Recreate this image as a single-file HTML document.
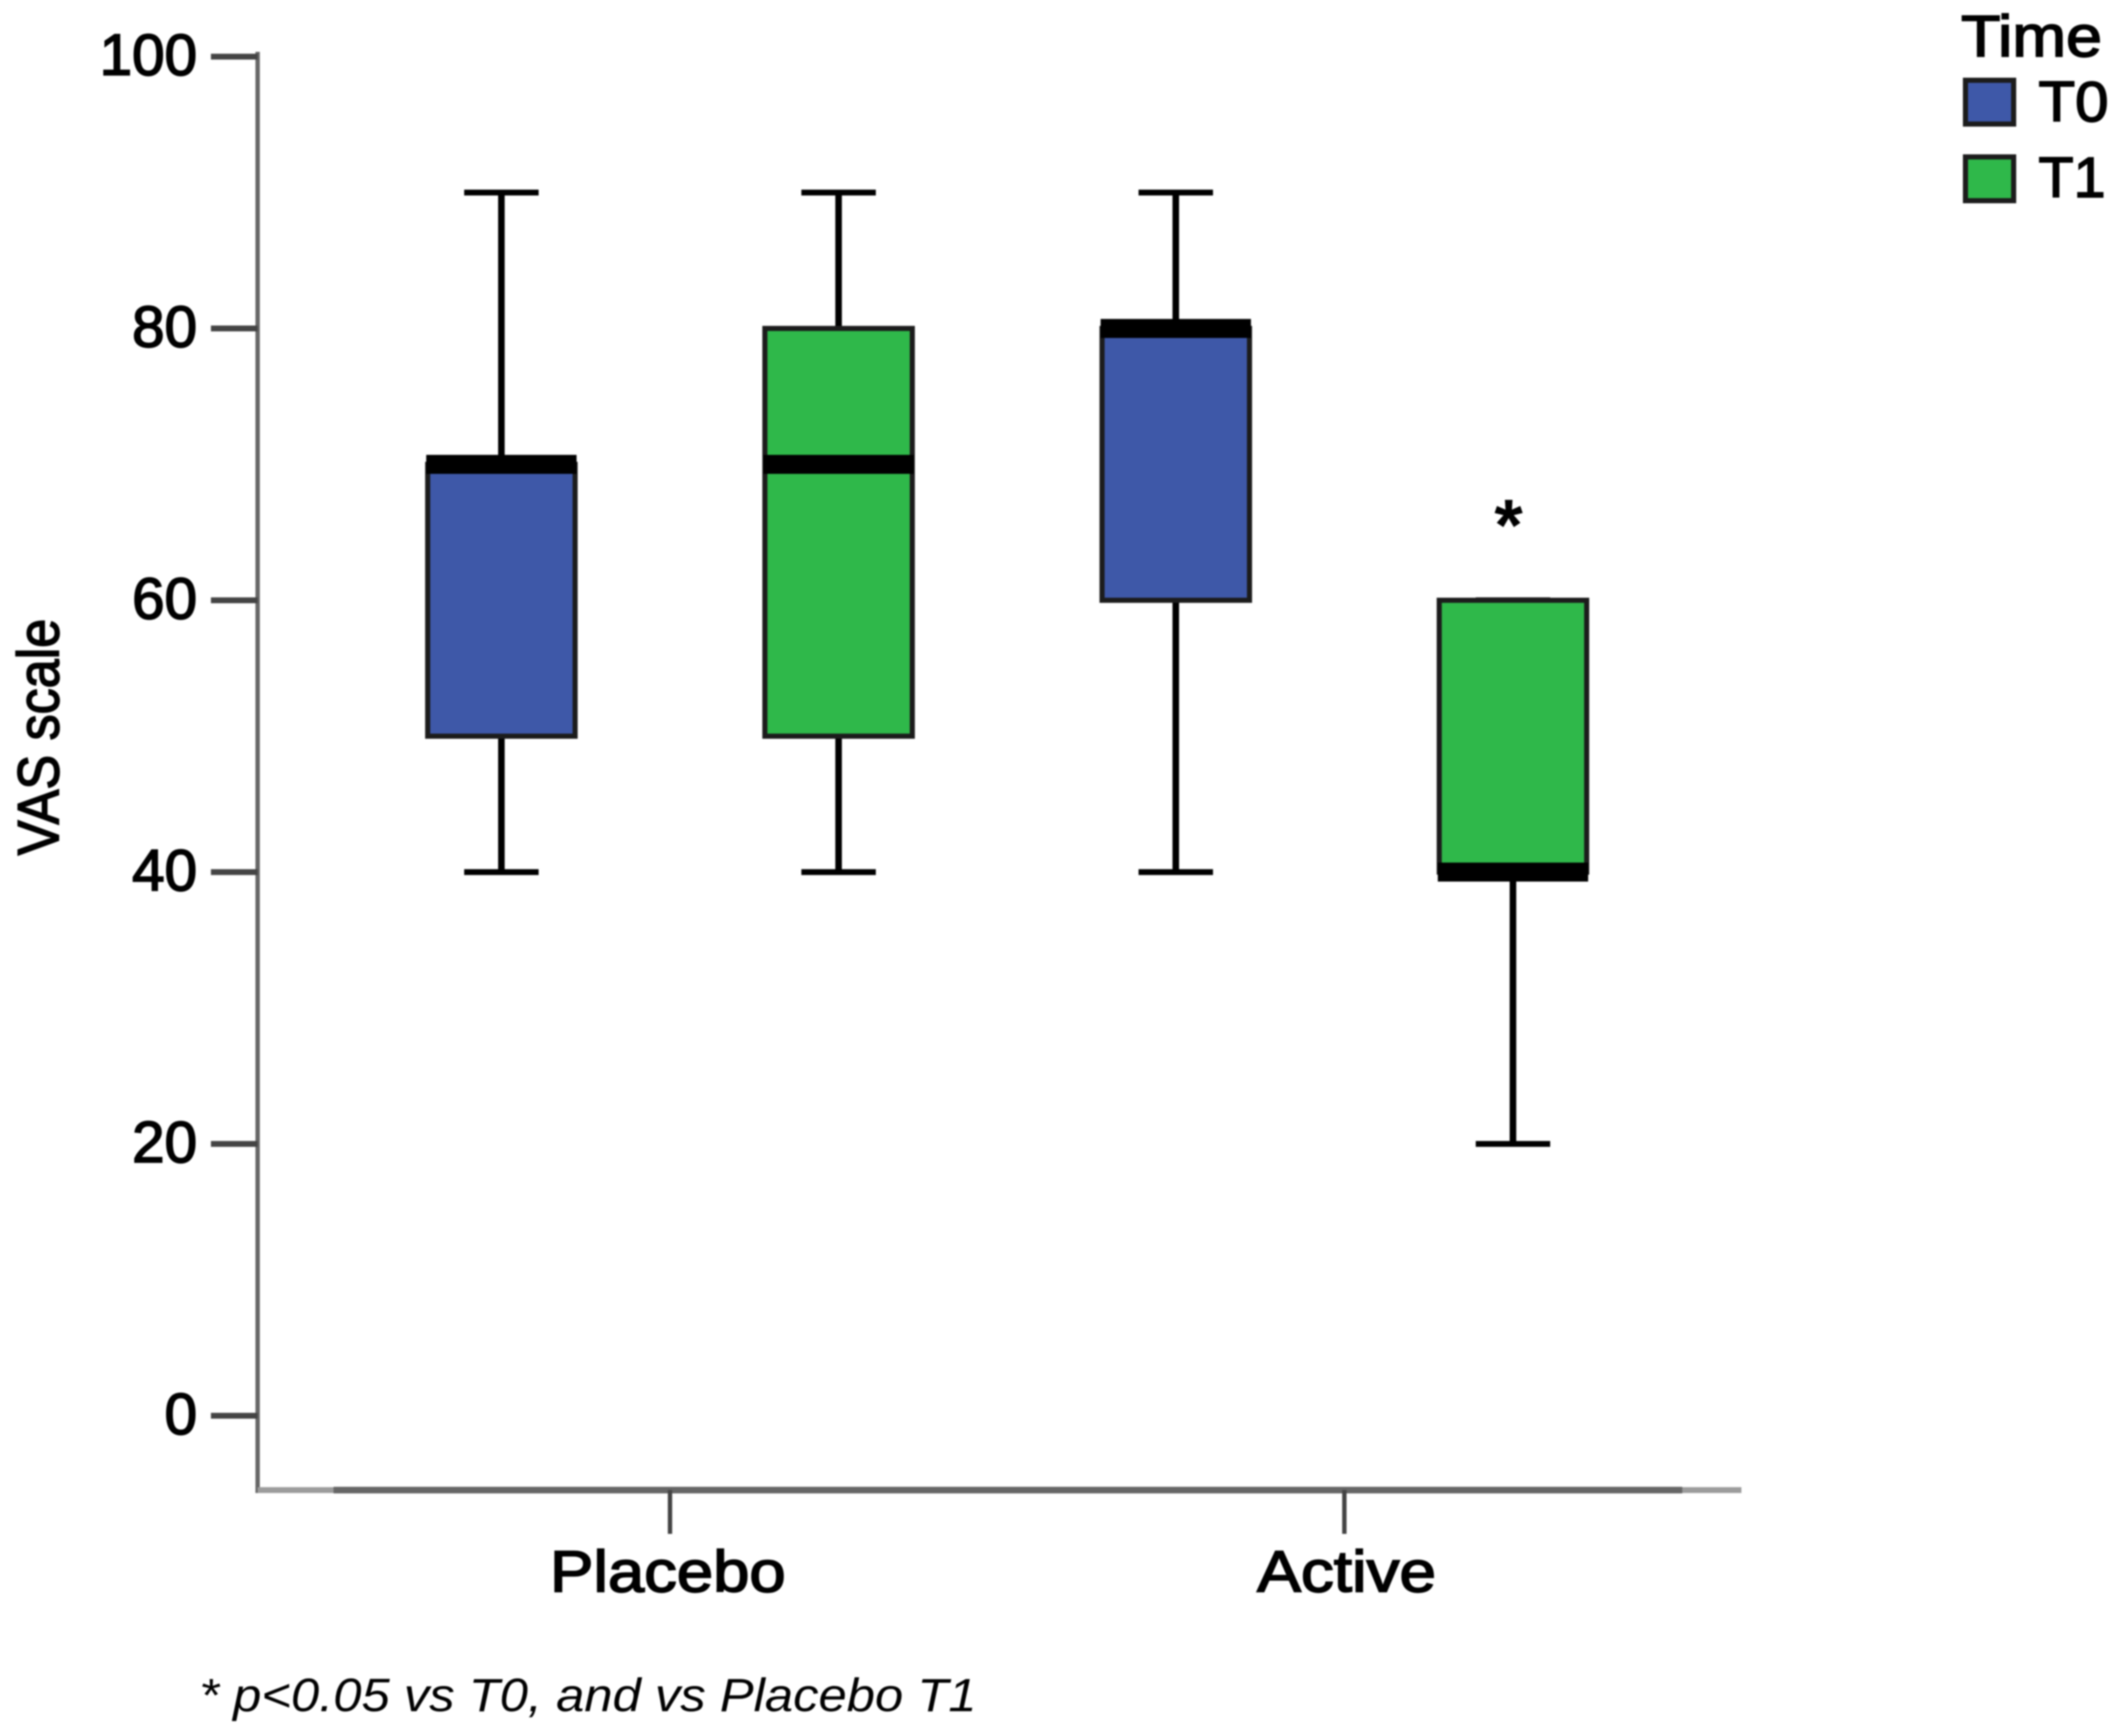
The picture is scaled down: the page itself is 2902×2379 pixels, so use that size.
<!DOCTYPE html>
<html>
<head>
<meta charset="utf-8">
<title>VAS scale box plot</title>
<style>
html,body{margin:0;padding:0;background:#fff;width:2902px;height:2379px;overflow:hidden}
svg{display:block}
text{font-family:"Liberation Sans",sans-serif;fill:#000}
</style>
</head>
<body>
<svg id="chart" xmlns="http://www.w3.org/2000/svg" width="2902" height="2379" viewBox="0 0 2902 2379">
<rect width="2902" height="2379" fill="#fff"/>
<g id="plot" style="filter:blur(1px)"></g>
</svg>
<script>
const groups = ["Placebo", "Active"];
const times = ["T0", "T1"];
const yTicks = [0, 20, 40, 60, 80, 100];
const lowerWhisker = [[40, 40], [40, 20]];
const lowerQuartile = [[50, 50], [60, 40]];
const medians = [[70, 70], [80, 40]];
const upperQuartile = [[70, 80], [80, 60]];
const upperWhisker = [[90, 90], [90, 60]];
const seriesColors = ["#3e58a8", "#2fb84a"];
const NS = "http://www.w3.org/2000/svg";
const plot = document.getElementById("plot");
function yScale(v) { return 77.6 + (100 - v) * 18.625; }
function xGroup(i) { return 918 + i * 924; }
function xBox(i, j) { return xGroup(i) + (j === 0 ? -231 : 231); }
function make(tag, attrs, parent) {
  const el = document.createElementNS(NS, tag);
  for (const k in attrs) el.setAttribute(k, attrs[k]);
  (parent || plot).appendChild(el);
  return el;
}
function line(x1, y1, x2, y2, color, width, parent) {
  return make("line", { x1: x1, y1: y1, x2: x2, y2: y2, stroke: color, "stroke-width": width }, parent);
}

const yAxis = line(353, 71, 353, 2046, "#666", 6);


const xAxisFull = line(353, 2042, 2386, 2042, "#9c9c9c", 8);


const xAxis = line(457, 2042, 2305, 2042, "#666", 9);



yTicks.forEach(function (t) {
  const tick = line(289, yScale(t), 353, yScale(t), "#444", 8);
  
  
  const label = make("text", { x: 270, y: yScale(t) + 25, "font-size": 80, "text-anchor": "end", stroke: "#000", "stroke-width": 2.2 });
  label.textContent = String(t);
  
  
});

groups.forEach(function (g, i) {
  const tick = line(xGroup(i), 2042, xGroup(i), 2102, "#444", 6);
  
  
  const label = make("text", { x: xGroup(i) + (g === "Placebo" ? -3 : 3), y: 2181, "font-size": 80, "text-anchor": "middle", stroke: "#000", "stroke-width": 2.2, textLength: g === "Placebo" ? 323 : 245, lengthAdjust: "spacingAndGlyphs" });
  label.textContent = g;
  
  
});

groups.forEach(function (g, i) {
  times.forEach(function (t, j) {
    const cx = xBox(i, j);
    const wx = cx;
    const box = make("g", {});
    
    
    line(wx, yScale(upperWhisker[i][j]), wx, yScale(lowerWhisker[i][j]), "#000", 9, box);
    line(wx - 51, yScale(upperWhisker[i][j]), wx + 51, yScale(upperWhisker[i][j]), "#000", 8, box);
    line(wx - 51, yScale(lowerWhisker[i][j]), wx + 51, yScale(lowerWhisker[i][j]), "#000", 8, box);
    make("rect", {
      x: cx - 101, y: yScale(upperQuartile[i][j]), width: 202,
      height: yScale(lowerQuartile[i][j]) - yScale(upperQuartile[i][j]),
      fill: seriesColors[j], stroke: "#1c1c1c", "stroke-width": 7
    }, box);
    make("rect", {
      x: cx - 103, y: yScale(medians[i][j]) - 13, width: 206, height: 26, fill: "#000"
    }, box);
  });
});

const star = make("text", { x: 2067, y: 754, "font-size": 100, "text-anchor": "middle" , "font-weight": "bold" });
star.textContent = "*";



const yTitle = make("text", { x: 0, y: 0, "font-size": 80, transform: "translate(80 1172) rotate(-90)", stroke: "#000", "stroke-width": 2.2, textLength: 324, lengthAdjust: "spacingAndGlyphs" });
yTitle.textContent = "VAS scale";



const legendTitle = make("text", { x: 2687, y: 77, "font-size": 80, stroke: "#000", "stroke-width": 2.2, textLength: 193, lengthAdjust: "spacingAndGlyphs" });
legendTitle.textContent = "Time";



times.forEach(function (t, j) {
  const swatchY = 110 + j * 105;
  const swatch = make("rect", { x: 2693, y: swatchY, width: 66, height: 60, fill: seriesColors[j], stroke: "#1c1c1c", "stroke-width": 7 });
  
  
  const label = make("text", { x: 2793, y: 166 + j * 104, "font-size": 78, stroke: "#000", "stroke-width": 2, textLength: j === 0 ? 96 : 92, lengthAdjust: "spacingAndGlyphs" });
  label.textContent = t;
  
  
});

const note = make("text", { x: 273, y: 2345, "font-size": 64, "font-style": "italic", textLength: 1065, lengthAdjust: "spacingAndGlyphs" });
note.textContent = "* p<0.05 vs T0, and vs Placebo T1";


</script>
</body>
</html>
